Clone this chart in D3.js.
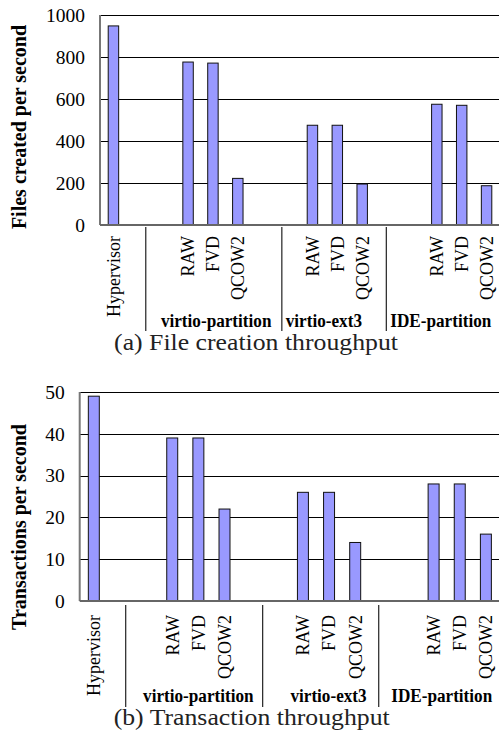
<!DOCTYPE html>
<html>
<head>
<meta charset="utf-8">
<script src="https://cdn.jsdelivr.net/npm/d3@7"></script>
<style>
  body { margin: 0; background: #fff; }
  text { font-family: "Liberation Serif", "Times New Roman", serif; }
</style>
</head>
<body>
<script>
// slot layout: hypervisor, gap, 3 formats per group with gaps between groups
var slotLabels = ["Hypervisor", "", "", "RAW", "FVD", "QCOW2", "", "", "RAW", "FVD", "QCOW2", "", "", "RAW", "FVD", "QCOW2"];
var groupNames = ["virtio-partition", "virtio-ext3", "IDE-partition"];

// (a) files created per second
var fileRates = [948, null, null, 776, 771, 222, null, null, 475, 475, 195, null, null, 575, 570, 187];
var fileTicks = [0, 200, 400, 600, 800, 1000];

// (b) transactions per second
var txRates = [49, null, null, 39, 39, 22, null, null, 26, 26, 14, null, null, 28, 28, 16];
var txTicks = [0, 10, 20, 30, 40, 50];

var W = 499, H = 734;
var serif = "'Liberation Serif', 'Times New Roman', serif";

var svg = d3.select("body").append("svg")
    .attr("width", W)
    .attr("height", H);

var panels = [
  {values: fileRates, ticks: fileTicks, title: "(a) File creation throughput", ylabel: "Files created per second",
   x0: 100, x1: 500, yTop: 15, yBot: 225, ylabelY: 127, catOff: 11,
   breaks: [1.84, 7.31, 11.51], breakTop: 227, breakBot: 331,
   groupAt: [4.67, 9.0, 13.7], groupBase: 326.5, titleX: 256, titleBase: 349.5},
  {values: txRates, ticks: txTicks, title: "(b) Transaction throughput", ylabel: "Transactions per second",
   x0: 79.7, x1: 500, yTop: 392, yBot: 601, ylabelY: 527, catOff: 14,
   breaks: [1.76, 7.0, 11.44], breakTop: 605, breakBot: 707,
   groupAt: [4.54, 9.52, 13.85], groupBase: 701.5, titleX: 251.7, titleBase: 725}
];

panels.forEach(function(p) {
  var g = svg.append("g");

  var x = d3.scaleBand()
      .domain(d3.range(slotLabels.length))
      .range([p.x0, p.x1])
      .paddingInner(0.58)
      .paddingOuter(0.33);

  var y = d3.scaleLinear()
      .domain([0, d3.max(p.ticks)])
      .range([p.yBot, p.yTop]);

  // gridlines (not at zero)
  g.selectAll(".grid")
    .data(p.ticks.filter(function(t) { return t > 0; }))
    .enter().append("line")
    .attr("x1", p.x0).attr("x2", p.x1)
    .attr("y1", function(d) { return Math.round(y(d)) + 0.5; })
    .attr("y2", function(d) { return Math.round(y(d)) + 0.5; })
    .style("stroke", "#000")
    .style("stroke-width", 1);

  // y axis, labels only
  var yAxis = g.append("g")
      .attr("transform", "translate(" + p.x0 + ",0)")
      .call(d3.axisLeft(y).tickValues(p.ticks).tickFormat(d3.format("d")).tickSize(0).tickPadding(15));
  yAxis.attr("font-family", serif).attr("font-size", 20);
  yAxis.select(".domain").remove();
  yAxis.selectAll("text")
      .style("font-family", serif)
      .style("font-size", "19.5px")
      .attr("fill", "#000");

  // bars
  g.selectAll(".bar")
    .data(p.values.map(function(v, i) { return {i: i, v: v}; }).filter(function(d) { return d.v != null; }))
    .enter().append("rect")
    .attr("x", function(d) { return x(d.i); })
    .attr("y", function(d) { return y(d.v); })
    .attr("width", x.bandwidth())
    .attr("height", function(d) { return y(0) - y(d.v); })
    .style("fill", "#9999ff")
    .style("stroke", "#111")
    .style("stroke-width", 1);

  // left axis line and baseline
  g.append("line")
    .attr("x1", p.x0).attr("x2", p.x0)
    .attr("y1", p.yTop).attr("y2", y(0))
    .style("stroke", "#777").style("stroke-width", 2);
  g.append("line")
    .attr("x1", p.x0).attr("x2", p.x1)
    .attr("y1", y(0)).attr("y2", y(0))
    .style("stroke", "#666").style("stroke-width", 2);

  // category labels, rotated
  g.selectAll(".cat")
    .data(slotLabels.map(function(s, i) { return {i: i, s: s}; }).filter(function(d) { return d.s !== ""; }))
    .enter().append("text")
    .attr("transform", function(d) {
      return "translate(" + (x(d.i) + x.bandwidth() / 2) + "," + (y(0) + p.catOff) + ") rotate(-90)";
    })
    .attr("dy", "0.35em")
    .attr("text-anchor", "end")
    .style("font-size", "18px")
    .text(function(d) { return d.s; });

  // group separators
  g.selectAll(".sep")
    .data(p.breaks)
    .enter().append("line")
    .attr("x1", function(b) { return p.x0 + b * x.step(); })
    .attr("x2", function(b) { return p.x0 + b * x.step(); })
    .attr("y1", p.breakTop).attr("y2", p.breakBot)
    .style("stroke", "#222").style("stroke-width", 1.2);

  // group names (the source figure squeezes these a little)
  g.selectAll(".grp")
    .data(groupNames)
    .enter().append("text")
    .attr("transform", function(d, i) {
      return "translate(" + (p.x0 + p.groupAt[i] * x.step()) + "," + p.groupBase + ") scale(0.88,1)";
    })
    .attr("text-anchor", "middle")
    .style("font-size", "19.5px")
    .style("font-weight", "bold")
    .text(function(d) { return d; });

  // y label
  g.append("text")
    .attr("transform", "translate(19," + p.ylabelY + ") rotate(-90)")
    .attr("dy", "0.35em")
    .attr("text-anchor", "middle")
    .style("font-size", "20px")
    .style("font-weight", "bold")
    .text(p.ylabel);

  // panel caption (slightly widened, as in the source)
  g.append("text")
    .attr("transform", "translate(" + p.titleX + "," + p.titleBase + ") scale(1.12,1)")
    .attr("text-anchor", "middle")
    .attr("fill", "#222")
    .style("font-size", "23px")
    .text(p.title);
});
</script>
</body>
</html>
